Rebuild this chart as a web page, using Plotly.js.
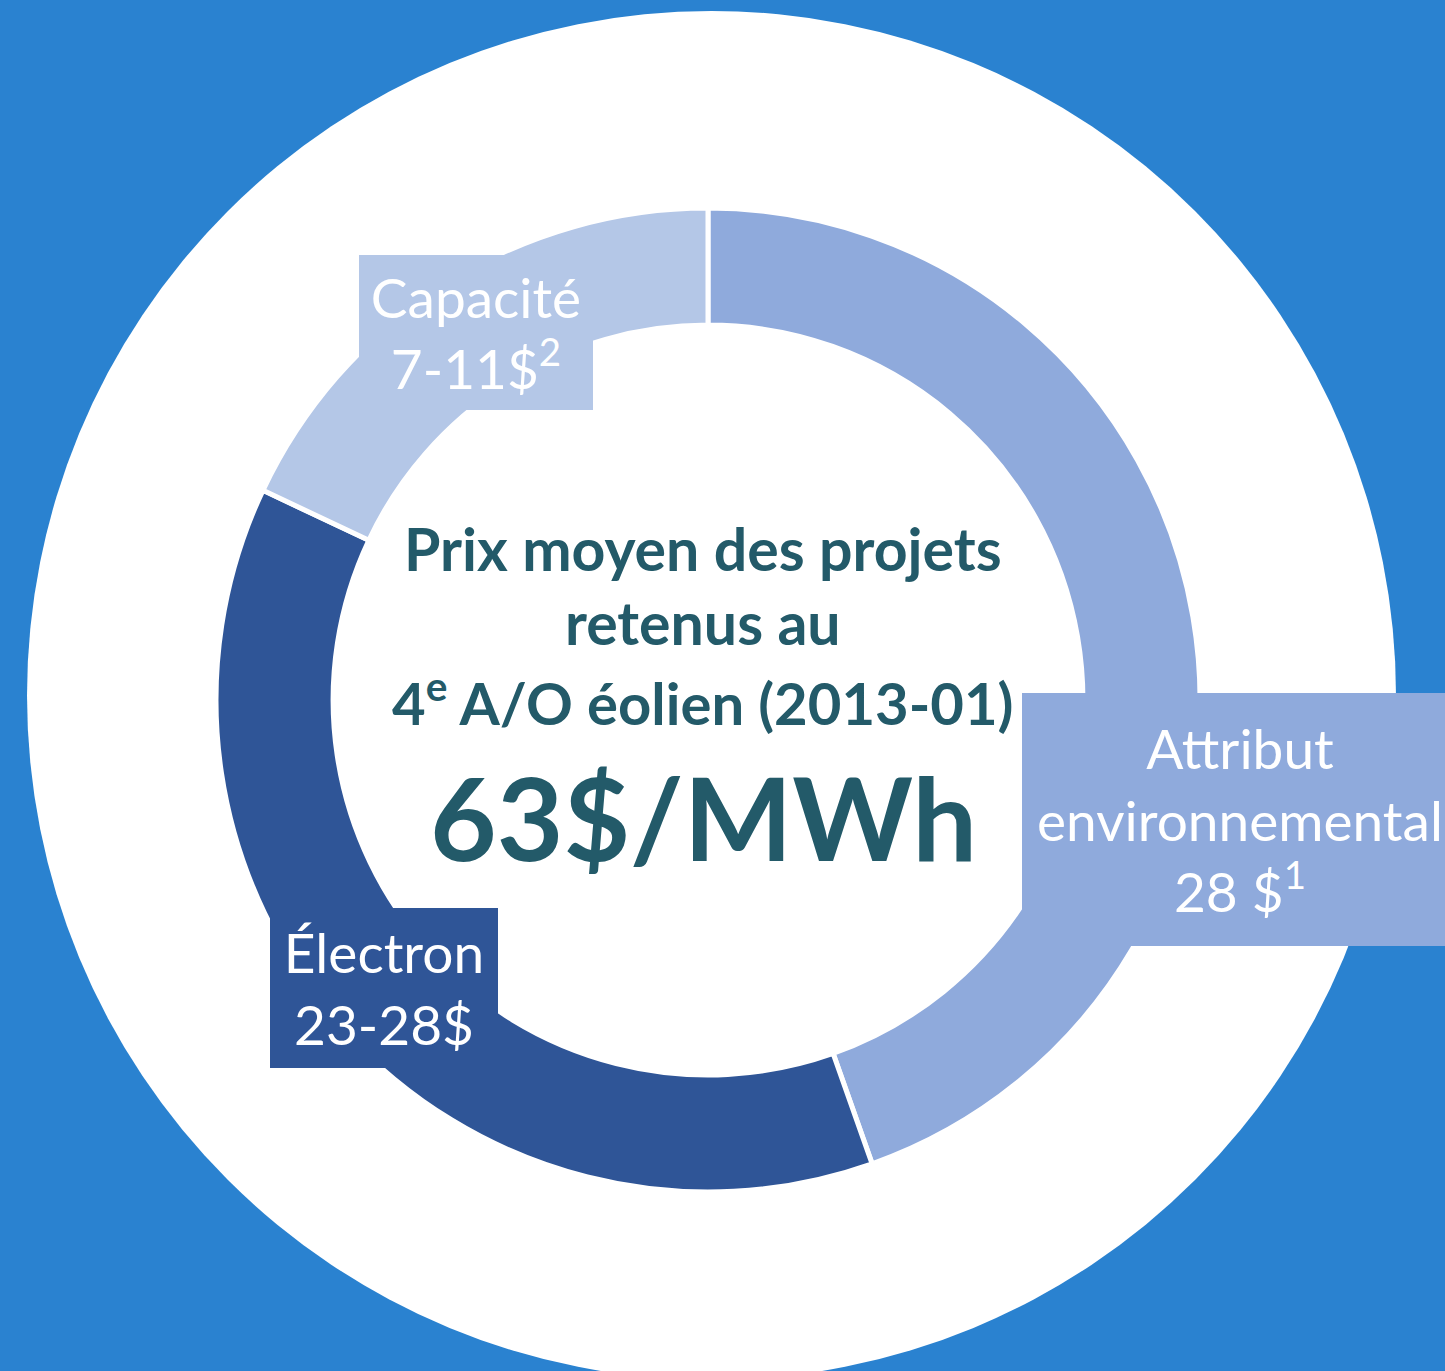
<!DOCTYPE html>
<html>
<head>
<meta charset="utf-8">
<script src="https://cdn.plot.ly/plotly-3.0.1.min.js"></script>
<style>
  html, body { margin: 0; padding: 0; background: #2a82d0; }
  #chart { width: 1445px; height: 1371px; }
</style>
</head>
<body>
<div id="chart"></div>
<script>
// ---- Data ----
const categories = ['Attribut environnemental', 'Électron', 'Capacité'];
const values = [28, 23.5, 11.3];
const sliceColors = ['#8faadc', '#2f5597', '#b4c7e7'];
const boxLabels = [
  'Attribut<br>environnemental<br>28 $<sup>1</sup>',
  'Électron<br>23-28$',
  'Capacité<br>7-11$<sup>2</sup>'
];
const centerLines = [
  'Prix moyen des projets',
  'retenus au',
  '4<sup>e</sup> A/O éolien (2013-01)'
];
const centerValue = '63$/MWh';

// ---- Layout helpers (pixel -> paper) ----
const W = 1445, H = 1371;
const px = x => x / W;
const py = y => 1 - y / H;

const cx = 708, cy = 700, R = 492;
const textX = 703;

const trace = {
  type: 'pie',
  labels: categories,
  values: values,
  sort: false,
  direction: 'clockwise',
  rotation: 0,
  hole: 0.762,
  textinfo: 'none',
  hoverinfo: 'label+value',
  showlegend: false,
  marker: { colors: sliceColors, line: { color: '#ffffff', width: 5 } },
  domain: { x: [px(cx - R), px(cx + R)], y: [py(cy + R), py(cy - R)] }
};

const labelFont = { family: 'Lato, "Open Sans", sans-serif', size: 55, color: '#ffffff' };
const centerFont = { family: 'Lato, "Open Sans", sans-serif', size: 59, color: '#235a69', weight: 'bold' };

function box(i, left, top, w, h) {
  return {
    xref: 'paper', yref: 'paper',
    x: px(left), y: py(top), xanchor: 'left', yanchor: 'top',
    width: w, height: h,
    text: boxLabels[i], showarrow: false,
    bgcolor: sliceColors[i], borderpad: 0, borderwidth: 0,
    align: 'center', valign: 'middle',
    font: labelFont
  };
}

function centerText(text, y, font) {
  return {
    xref: 'paper', yref: 'paper',
    x: px(textX), y: py(y), xanchor: 'center', yanchor: 'middle',
    text: text, showarrow: false, font: font
  };
}

const annotations = [
  box(0, 1022, 693, 436, 253),
  box(1, 270, 908, 228, 160),
  box(2, 359, 255, 234, 155),
  centerText(centerLines[0], 548, centerFont),
  centerText(centerLines[1], 623, centerFont),
  centerText(centerLines[2], 699, Object.assign({}, centerFont, { size: 58 })),
  centerText(centerValue, 816, Object.assign({}, centerFont, { size: 115 }))
];

const layout = {
  width: W, height: H,
  margin: { l: 0, r: 0, t: 0, b: 0 },
  paper_bgcolor: '#2a82d0',
  plot_bgcolor: '#2a82d0',
  showlegend: false,
  shapes: [{
    type: 'circle', xref: 'paper', yref: 'paper', layer: 'below',
    x0: px(27), x1: px(1396), y0: py(1380), y1: py(11),
    fillcolor: '#ffffff', line: { width: 0 }
  }],
  annotations: annotations
};

Plotly.newPlot('chart', [trace], layout, { displayModeBar: false, staticPlot: true });
</script>
</body>
</html>
